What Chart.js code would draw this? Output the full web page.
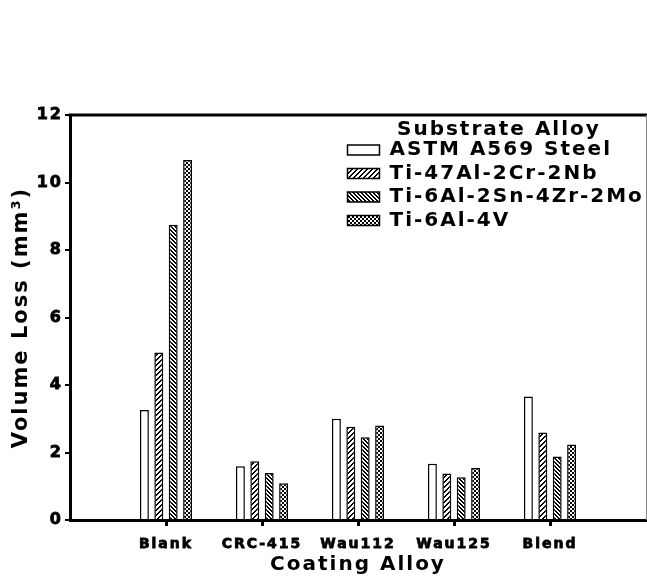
<!DOCTYPE html>
<html>
<head>
<meta charset="utf-8">
<script src="https://cdn.jsdelivr.net/npm/chart.js@4/dist/chart.umd.min.js"></script>
<style>
  html, body { margin: 0; padding: 0; background: #fff; }
  canvas { display: block; }
</style>
</head>
<body>
<canvas id="chart" width="647" height="580"></canvas>
<script>
// coating alloys on the x axis (blank slots at both ends keep the spacing)
const categories = ['Blank', 'CRC-415', 'Wau112', 'Wau125', 'Blend'];
const seriesNames = ['ASTM A569 Steel', 'Ti-47Al-2Cr-2Nb', 'Ti-6Al-2Sn-4Zr-2Mo', 'Ti-6Al-4V'];

// volume loss, mm^3
const steel   = [3.26, 1.59, 3.00, 1.67, 3.66];
const tiAlCr  = [4.96, 1.74, 2.76, 1.38, 2.59];
const tiAlSn  = [8.75, 1.39, 2.45, 1.27, 1.88];
const tiAlV   = [10.67, 1.09, 2.80, 1.54, 2.24];

const yTicks = [0, 2, 4, 6, 8, 10, 12];

const FONT = "'DejaVu Sans', sans-serif";

// little pixel tiles for the hatch fills
function makeTile(size, isBlack) {
  const c = document.createElement('canvas');
  c.width = size; c.height = size;
  const t = c.getContext('2d');
  const img = t.createImageData(size, size);
  for (let y = 0; y < size; y++) {
    for (let x = 0; x < size; x++) {
      const v = isBlack(x, y) ? 0 : 255;
      const i = (y * size + x) * 4;
      img.data[i] = img.data[i + 1] = img.data[i + 2] = v;
      img.data[i + 3] = 255;
    }
  }
  t.putImageData(img, 0, 0);
  return document.getElementById('chart').getContext('2d').createPattern(c, 'repeat');
}

const fills = [
  '#ffffff',
  makeTile(5, (x, y) => (x + y) % 5 < 2),                       // ////
  makeTile(4, (x, y) => (x - y + 8) % 4 < 2),                   // \\\\
  makeTile(4, (x, y) => (Math.floor(x / 2) + Math.floor(y / 2)) % 2 === 0) // checker
];

const xLabels = [''].concat(categories, ['']);
const allSeries = [steel, tiAlCr, tiAlSn, tiAlV];

const datasets = allSeries.map((vals, i) => ({
  label: seriesNames[i],
  data: [null].concat(vals, [null]),
  backgroundColor: fills[i],
  borderColor: '#000',
  borderWidth: 1.5,
  categoryPercentage: 0.6,
  barPercentage: 0.62
}));

const spacing = {
  id: 'spacing',
  beforeLayout(chart) { chart.ctx.letterSpacing = '2px'; },
  beforeDraw(chart) { chart.ctx.letterSpacing = '2px'; }
};

// put the legend in the upper right inside the plot, draw top/right frame
const frame = {
  id: 'frame',
  afterLayout(chart) {
    const lg = chart.legend;
    const a = chart.chartArea;
    lg.left = a.left + 274;
    lg.right = lg.left + lg.width;
    lg.top = a.top;
    lg.bottom = a.bottom;
  },
  afterDraw(chart) {
    const { ctx, chartArea: a } = chart;
    ctx.save();
    ctx.strokeStyle = '#000';
    ctx.lineWidth = 3;
    ctx.beginPath();
    ctx.moveTo(a.left - 1.5, a.top);
    ctx.lineTo(chart.width, a.top);
    ctx.stroke();
    ctx.strokeStyle = '#888';
    ctx.lineWidth = 1;
    ctx.beginPath();
    ctx.moveTo(a.right + 0.5, a.top);
    ctx.lineTo(a.right + 0.5, a.bottom);
    ctx.stroke();
    ctx.restore();
  }
};

new Chart(document.getElementById('chart'), {
  type: 'bar',
  data: { labels: xLabels, datasets: datasets },
  options: {
    responsive: false,
    animation: false,
    layout: { padding: { top: 115, right: 1, left: 0, bottom: 0 } },
    plugins: {
      legend: {
        position: 'chartArea',
        align: 'start',
        labels: {
          boxWidth: 32,
          boxHeight: 10,
          padding: 3.5,
          color: '#000',
          font: { family: FONT, size: 20, weight: 'bold' }
        },
        title: {
          display: true,
          text: 'Substrate Alloy',
          color: '#000',
          padding: { top: 5, bottom: -3.5 },
          font: { family: FONT, size: 20, weight: 'bold', lineHeight: 1 }
        }
      },
      tooltip: { enabled: false }
    },
    scales: {
      x: {
        offset: false,
        afterFit(s) {
          s.height = 60;
          s.paddingLeft = 0;
          s.paddingRight = 0;
        },
        border: { display: true, color: '#000', width: 3 },
        grid: {
          offset: false,
          drawOnChartArea: false,
          drawTicks: true,
          tickLength: 6,
          lineWidth: 3,
          color: (c) => (c.index === 0 || c.index === xLabels.length - 1) ? 'rgba(0,0,0,0)' : '#000'
        },
        ticks: {
          color: '#000',
          padding: 10,
          maxRotation: 0,
          autoSkip: false,
          textStrokeColor: '#000',
          textStrokeWidth: 0.8,
          font: { family: FONT, size: 14, weight: 'bold' }
        },
        title: {
          display: true,
          text: 'Coating Alloy',
          color: '#000',
          padding: { top: 0, bottom: 3 },
          font: { family: FONT, size: 20, weight: 'bold' }
        }
      },
      y: {
        min: 0,
        max: 12,
        afterFit(s) { s.width = 70; },
        afterBuildTicks(s) { s.ticks = yTicks.map(v => ({ value: v })); },
        border: { display: true, color: '#000', width: 3 },
        grid: {
          drawOnChartArea: false,
          drawTicks: true,
          tickLength: 5,
          lineWidth: 2,
          color: '#000'
        },
        ticks: {
          color: '#000',
          padding: 2,
          textStrokeColor: '#000',
          textStrokeWidth: 0.8,
          font: { family: FONT, size: 16, weight: 'bold' }
        },
        title: {
          display: true,
          text: 'Volume Loss (mm³)',
          color: '#000',
          padding: { top: 9, bottom: 0 },
          font: { family: FONT, size: 21, weight: 'bold' }
        }
      }
    }
  },
  plugins: [spacing, frame]
});
</script>
</body>
</html>
